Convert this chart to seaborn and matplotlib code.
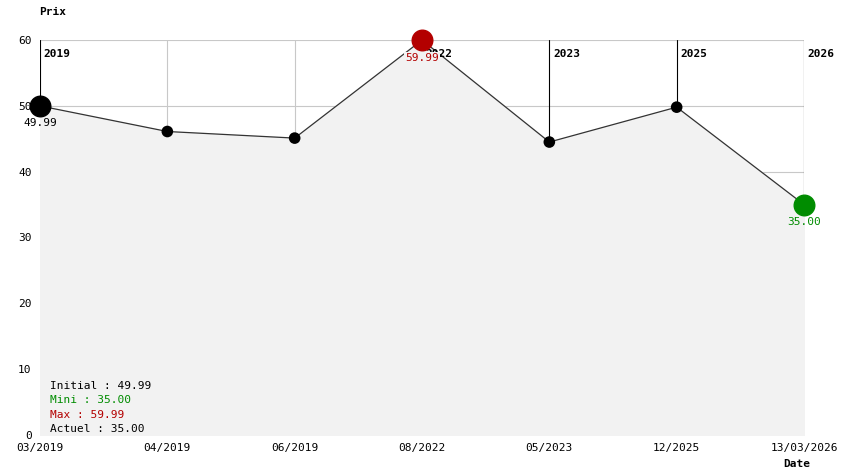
import matplotlib
matplotlib.use("Agg")
import matplotlib.pyplot as plt
import seaborn as sns
import pandas as pd

# data
dates = ["03/2019", "04/2019", "06/2019", "08/2022", "05/2023", "12/2025", "13/03/2026"]
prices = [49.99, 46.1, 45.1, 59.99, 44.5, 49.8, 35.00]
year_marks = {0: "2019", 3: "2022", 4: "2023", 5: "2025", 6: "2026"}
y_ticks = [0, 10, 20, 30, 40, 50, 60]

df = pd.DataFrame({"idx": range(len(dates)), "price": prices})

sns.set_style("white")
plt.rcParams["font.family"] = ["DejaVu Sans Mono"]
plt.rcParams["text.color"] = "black"
fig = plt.figure(figsize=(8.44, 4.74), dpi=100)
ax = fig.add_axes([0.0474, 0.0823, 0.9052, 0.8333])

# grid under the fill
for v in y_ticks[1:]:
    ax.axhline(v, color="#c8c8c8", lw=0.8, zorder=0)
for i in range(len(dates)):
    c = "black" if i in year_marks else "#c8c8c8"
    ax.axvline(i, color=c, lw=0.8, zorder=0)
    if i in year_marks:
        ax.text(i + 0.03, 58.6, year_marks[i], fontsize=8, fontweight="bold", va="top", zorder=3.5)

ax.fill_between(df["idx"], df["price"], 0, color="#f2f2f2", zorder=1)
sns.lineplot(data=df, x="idx", y="price", color="#333333", lw=0.9, ax=ax, zorder=2)
sns.scatterplot(data=df.iloc[1:-1], x="idx", y="price", color="black", s=70, edgecolor="none", ax=ax, zorder=3)

imax = prices.index(max(prices))
imin = len(prices) - 1
ax.scatter([0], [prices[0]], color="black", s=220, zorder=4, clip_on=False)
ax.scatter([imax], [prices[imax]], color="#b30000", s=220, zorder=4, clip_on=False)
ax.scatter([imin], [prices[imin]], color="#008c00", s=220, zorder=4, clip_on=False)
ax.text(0, prices[0] - 1.9, f"{prices[0]:.2f}", fontsize=8, ha="center", va="top", zorder=5)
ax.text(imax, prices[imax] - 1.9, f"{prices[imax]:.2f}", fontsize=8, ha="center", va="top", color="#b30000", zorder=5,
        bbox=dict(facecolor="#f2f2f2", edgecolor="none", pad=0.5))
ax.text(imin, prices[imin] - 1.9, f"{prices[imin]:.2f}", fontsize=8, ha="center", va="top", color="#008c00", zorder=5)

legend_lines = [(f"Initial : {prices[0]:.2f}", "black"), (f"Mini : {min(prices):.2f}", "#008c00"),
                (f"Max : {max(prices):.2f}", "#b30000"), (f"Actuel : {prices[-1]:.2f}", "black")]
for k, (t, c) in enumerate(legend_lines):
    ax.text(0.08, 7.4 - k * 2.15, t, fontsize=8, color=c, va="center", zorder=5)

ax.set_xlim(0, len(dates) - 1)
ax.set_ylim(0, 60)
ax.set_xticks(range(len(dates)))
ax.set_xticklabels(dates, fontsize=8, color="black")
ax.set_yticks(y_ticks)
ax.set_yticklabels(y_ticks, fontsize=8, color="black")
ax.tick_params(length=0, pad=6)
ax.set_xlabel("")
ax.set_ylabel("")
for s in ax.spines.values():
    s.set_visible(False)
fig.text(0.046, 0.975, "Prix", fontsize=8, fontweight="bold", va="center")
fig.text(0.928, 0.022, "Date", fontsize=8, fontweight="bold", va="center")

fig.savefig("out.png", dpi=100)
